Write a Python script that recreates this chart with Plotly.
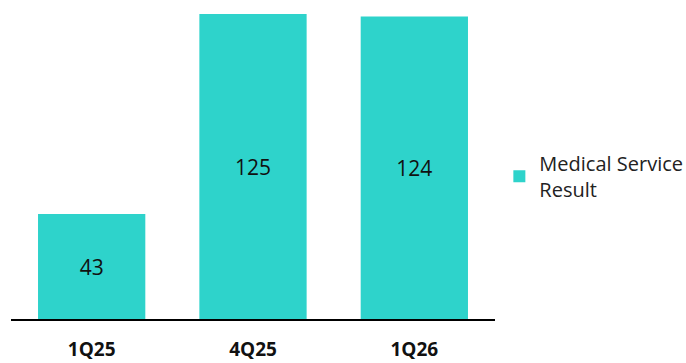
import plotly.graph_objects as go

categories = ["1Q25", "4Q25", "1Q26"]
values = [43, 125, 124]
series_name = "Medical Service<br>Result"

fig = go.Figure()
fig.add_trace(go.Bar(
    x=categories, y=values, name=series_name,
    marker=dict(color="#2ED3CB", line=dict(width=0)),
    text=[str(v) for v in values], textposition="inside",
    insidetextanchor="middle",
    textfont=dict(family="Open Sans, Lato, sans-serif", size=21, color="#111111"),
    showlegend=True,
))
fig.update_layout(
    width=686, height=363,
    margin=dict(l=11, r=191, t=5, b=44, autoexpand=False),
    paper_bgcolor="white", plot_bgcolor="white",
    bargap=0.335,
    showlegend=True,
    legend=dict(x=1.009, y=0.455, xanchor="left", yanchor="middle",
                font=dict(family="Open Sans, Lato, sans-serif", size=20, color="#222222"),
                itemsizing="constant", bgcolor="rgba(0,0,0,0)"),
    xaxis=dict(showline=True, linecolor="black", linewidth=2, ticks="",
               tickfont=dict(family="Open Sans, Lato, sans-serif", size=19, color="#111111", weight="bold"),
               ticklabelstandoff=12, automargin=False, showgrid=False, zeroline=False),
    yaxis=dict(range=[0, 128.7], visible=False, showgrid=False, zeroline=False, automargin=False),
)
fig.write_html("out.html")
